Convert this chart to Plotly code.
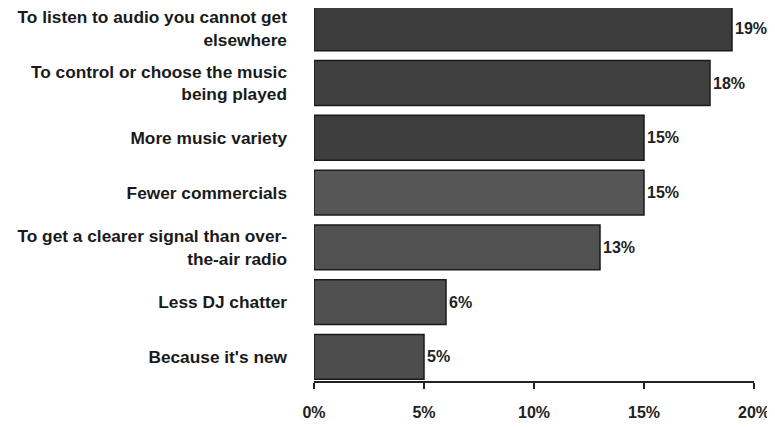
import plotly.graph_objects as go

categories = [
    "To listen to audio you cannot get<br>elsewhere",
    "To control or choose the music<br>being played",
    "More music variety",
    "Fewer commercials",
    "To get a clearer signal than over-<br>the-air radio",
    "Less DJ chatter",
    "Because it's new",
]
values = [19, 18, 15, 15, 13, 6, 5]
value_labels = ["19%", "18%", "15%", "15%", "13%", "6%", "5%"]
tick_vals = [0, 5, 10, 15, 20]
tick_text = ["0%", "5%", "10%", "15%", "20%"]

bar_colors = ["#3c3c3c", "#404040", "#3e3e3e", "#565656", "#515151", "#505050", "#4d4d4d"]

fig = go.Figure(go.Bar(
    x=values,
    y=categories,
    orientation="h",
    marker=dict(color=bar_colors, line=dict(color="#1a1a1a", width=1.5)),
    text=value_labels,
    textposition="outside",
    textfont=dict(family="Liberation Sans", size=16, color="#222222", weight="bold"),
    cliponaxis=False,
))

# page has an 8px body margin, so the figure is 767x419 placed at (8, 8)
fig.update_layout(
    width=767, height=419,
    margin=dict(l=306, r=21, t=0, b=46),
    paper_bgcolor="white", plot_bgcolor="white",
    bargap=0.18,
    showlegend=False,
    font=dict(family="Liberation Sans", color="#222222"),
)
fig.update_yaxes(
    range=[6.44, -0.37],
    tickfont=dict(family="Liberation Sans", size=17.3, color="#1a1a1a", weight="bold"),
    ticks="", ticklabelstandoff=26,
    showline=False, showgrid=False,
)
fig.update_xaxes(
    range=[0, 20],
    tickvals=tick_vals, ticktext=tick_text,
    tickfont=dict(family="Liberation Sans", size=16, color="#222222", weight="bold"),
    ticks="outside", ticklen=6, tickcolor="#222222", tickwidth=1.5,
    showline=True, linecolor="#222222", linewidth=1.5,
    showgrid=False, zeroline=False,
    ticklabelstandoff=10,
)

fig.write_html("out.html")
